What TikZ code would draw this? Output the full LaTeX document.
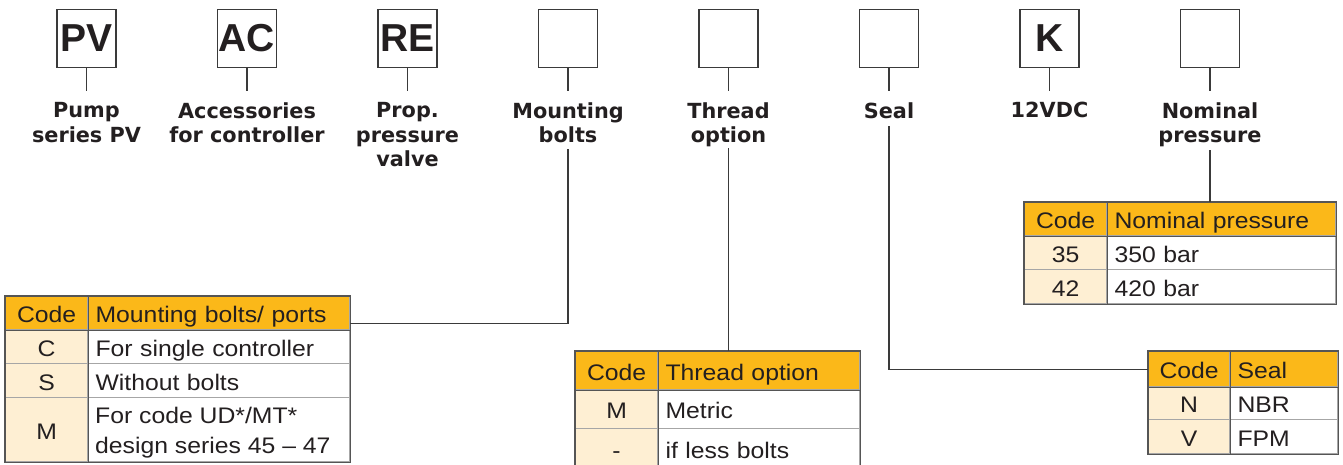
\documentclass[tikz,border=0pt]{standalone}
\usepackage{fontspec}
\setmainfont{Liberation Sans}
\newfontfamily\labfont{DejaVu Sans}
\newfontfamily\tabfont[FakeStretch=1.1]{Liberation Sans}
\newfontfamily\boxfont{Liberation Sans}
\definecolor{hdr}{HTML}{FBB819}
\definecolor{codebg}{HTML}{FEEFD3}
\definecolor{ink}{HTML}{231F20}
\definecolor{tborder}{HTML}{555555}
\definecolor{rowline}{HTML}{A6A6A6}
\definecolor{boxc}{HTML}{3A3A3A}
\definecolor{linec}{HTML}{3A3A3A}
\tikzset{
  codebox/.style={draw=boxc, line width=1.3pt, minimum width=59pt, minimum height=58pt, inner sep=0pt,
    font=\boxfont\bfseries\fontsize{39}{39}\selectfont, text=ink},
  lab/.style={font=\labfont\bfseries\fontsize{20.8}{24.5}\selectfont, text=ink, align=center, inner sep=0pt, anchor=north},
  conn/.style={draw=linec, line width=1.2pt},
  tcell/.style={inner xsep=0pt, inner ysep=0pt, anchor=north west, text height=19pt, text depth=0pt,
    font=\tabfont\fontsize{22.5}{29.5}\selectfont, text=ink, draw=rowline, line width=1.2pt},
  hc/.style={tcell, fill=hdr},
  cc/.style={tcell, fill=codebg},
  dc/.style={tcell, fill=white},
  dtext/.style={text width=#1, inner xsep=8pt, align=left},
  frame/.style={draw=tborder, line width=1.3pt},
}
\begin{document}
\begin{tikzpicture}[x=1pt,y=-1pt]
\useasboundingbox (0,0) rectangle (1343,464);

% code boxes
\node[codebox] (b1) at (86.5,38.3) {PV};
\node[codebox] (b2) at (247,38.3) {AC};
\node[codebox] (b3) at (407.5,38.3) {RE};
\node[codebox] (b4) at (568,38.3) {};
\node[codebox] (b5) at (728.5,38.3) {};
\node[codebox] (b6) at (889,38.3) {};
\node[codebox] (b7) at (1049.5,38.3) {K};
\node[codebox] (b8) at (1210,38.3) {};

% labels
\node[lab] (l1) at (86.5,102.3) {Pump\\series PV};
\node[lab] (l2) at (247,102.3) {Accessories\\for controller};
\node[lab] (l3) at (407.5,102.3) {Prop.\\pressure\\valve};
\node[lab] (l4) at (568,102.3) {Mounting\\bolts};
\node[lab] (l5) at (728.5,102.3) {Thread\\option};
\node[lab] (l6) at (889,102.3) {Seal};
\node[lab] (l7) at (1049.5,102.3) {12VDC};
\node[lab] (l8) at (1210,102.3) {Nominal\\pressure};

% stems
\foreach \i in {1,...,8}{
  \draw[conn, shorten >=11.5pt] (b\i.south) -- (l\i.north);
}

% Mounting bolts table
\node[hc, minimum width=82pt, minimum height=33pt] (m11) at (5,296) {Code};
\node[hc, dtext=246pt, minimum height=33pt] (m12) at (87,296) {Mounting bolts/ ports};
\node[cc, minimum width=82pt, minimum height=34pt] (m21) at (5,329) {C};
\node[dc, dtext=246pt, minimum height=34pt] (m22) at (87,329) {For single controller};
\node[cc, minimum width=82pt, minimum height=34pt] (m31) at (5,363) {S};
\node[dc, dtext=246pt, minimum height=34pt] (m32) at (87,363) {Without bolts};
\node[cc, minimum width=82pt, minimum height=64pt] (m41) at (5,397) {M};
\node[dc, minimum width=262pt, minimum height=64pt] (m42) at (87,397) {};
\node[anchor=north west, inner sep=0pt, align=left, text=ink, font=\tabfont\fontsize{22.5}{29.5}\selectfont] (m42t) at (95,407) {For code UD*/MT*\\design series 45 – 47};
\draw[frame] (m11.north west) rectangle (m42.south east);
\draw[frame] (m11.north east) -- (m41.south east);
\draw[frame] (m11.south west) -- (m12.south east);

% Thread option table
\node[hc, minimum width=82pt, minimum height=38pt] (t11) at (575,351) {Code};
\node[hc, dtext=186pt, minimum height=38pt] (t12) at (657,351) {Thread option};
\node[cc, minimum width=82pt, minimum height=39pt] (t21) at (575,389) {M};
\node[dc, dtext=186pt, minimum height=39pt] (t22) at (657,389) {Metric};
\node[cc, minimum width=82pt, minimum height=40pt] (t31) at (575,428) {-};
\node[dc, dtext=186pt, minimum height=40pt] (t32) at (657,428) {if less bolts};
\draw[frame] (t11.north west) rectangle (t32.south east);
\draw[frame] (t11.north east) -- (t31.south east);
\draw[frame] (t11.south west) -- (t12.south east);

% Seal table
\node[hc, minimum width=81pt, minimum height=35pt] (s11) at (1148,351) {Code};
\node[hc, dtext=92pt, minimum height=35pt] (s12) at (1229,351) {Seal};
\node[cc, minimum width=81pt, minimum height=33pt] (s21) at (1148,386) {N};
\node[dc, dtext=92pt, minimum height=33pt] (s22) at (1229,386) {NBR};
\node[cc, minimum width=81pt, minimum height=34pt] (s31) at (1148,419) {V};
\node[dc, dtext=92pt, minimum height=34pt] (s32) at (1229,419) {FPM};
\draw[frame] (s11.north west) rectangle (s32.south east);
\draw[frame] (s11.north east) -- (s31.south east);
\draw[frame] (s11.south west) -- (s12.south east);

% Nominal pressure table
\node[hc, minimum width=82pt, minimum height=33pt] (n11) at (1024,202) {Code};
\node[hc, dtext=213pt, minimum height=33pt] (n12) at (1106,202) {Nominal pressure};
\node[cc, minimum width=82pt, minimum height=34pt] (n21) at (1024,235) {35};
\node[dc, dtext=213pt, minimum height=34pt] (n22) at (1106,235) {350 bar};
\node[cc, minimum width=82pt, minimum height=34pt] (n31) at (1024,269) {42};
\node[dc, dtext=213pt, minimum height=34pt] (n32) at (1106,269) {420 bar};
\draw[frame] (n11.north west) rectangle (n32.south east);
\draw[frame] (n11.north east) -- (n31.south east);
\draw[frame] (n11.south west) -- (n12.south east);

% connectors to tables
\draw[conn, shorten <=6pt] (l4.south) |- ([yshift=7pt]m12.south east);
\draw[conn, shorten <=1pt] (l5.south) -- (l5.south |- t12.north);
\draw[conn, shorten <=7.5pt] (l6.south) |- (s11.west);
\draw[conn, shorten <=3pt] (l8.south) -- (l8.south |- n12.north);
\end{tikzpicture}
\end{document}
